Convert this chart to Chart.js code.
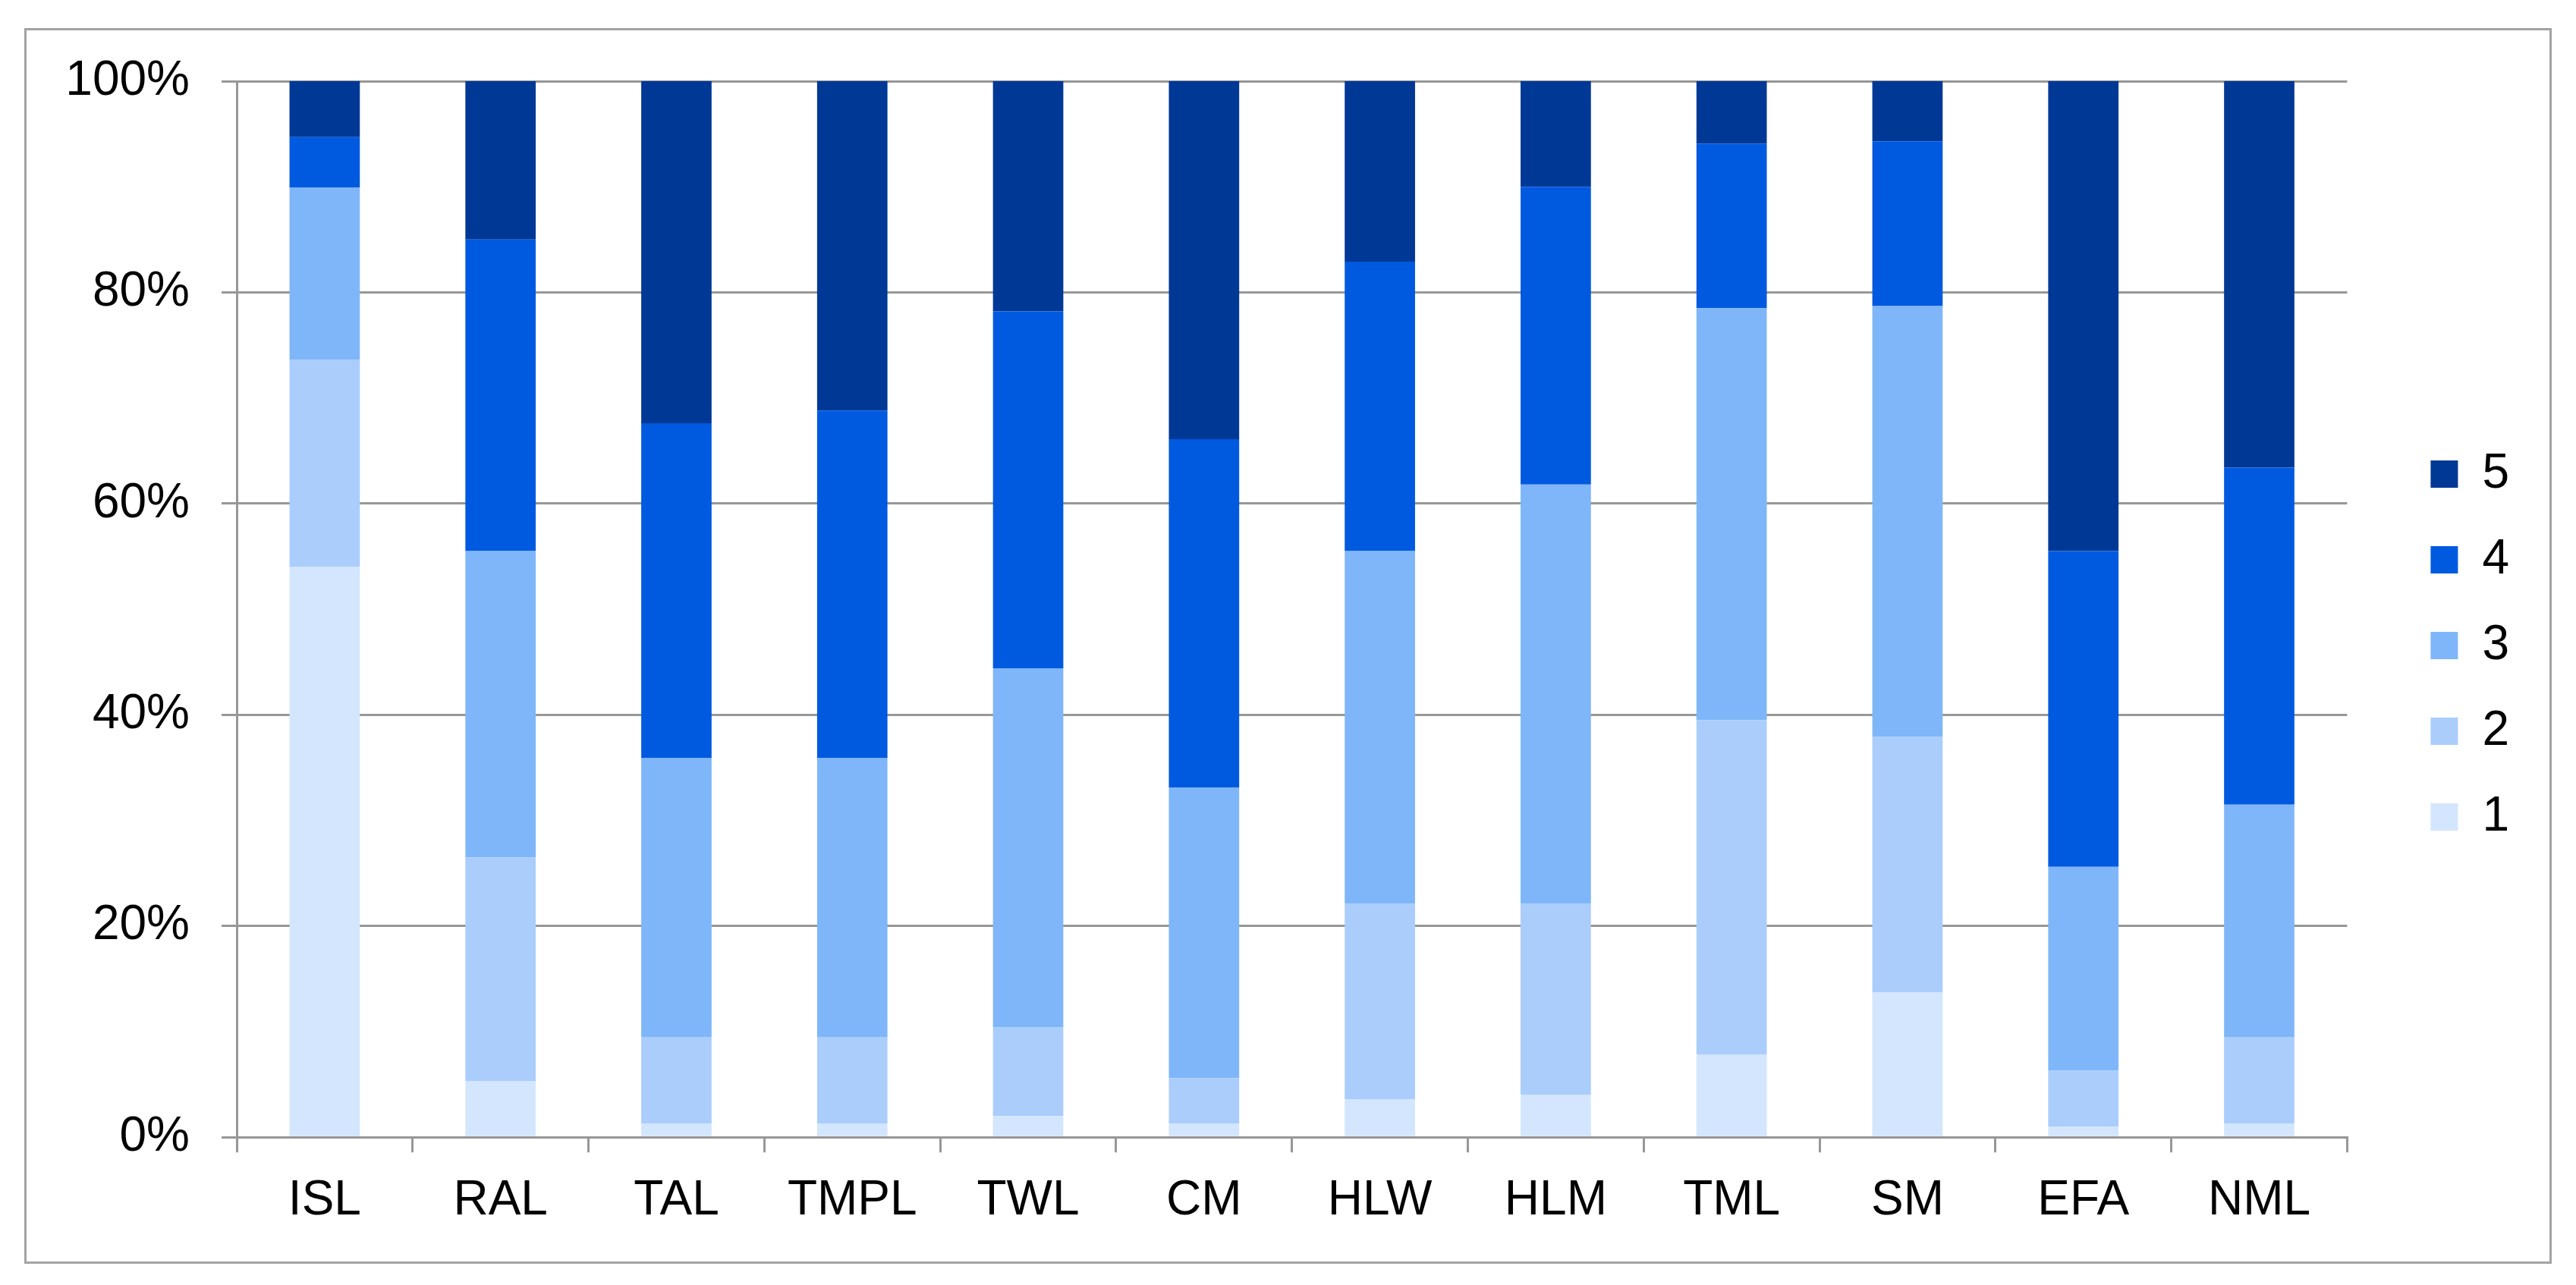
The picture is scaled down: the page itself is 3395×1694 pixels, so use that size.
<!DOCTYPE html>
<html lang="en">
<head>
  <meta charset="UTF-8"/>
  <title>Stacked distribution</title>
  <style>
    html, body { margin:0; padding:0; background:#fff; }
    #frame {
      position:absolute; left:32px; top:37px; width:3331px; height:1629px;
      box-sizing:border-box; border:3px solid #a3a3a3;
    }
    #chart { position:absolute; left:0; top:0; }
  </style>
  <script src="https://cdn.jsdelivr.net/npm/chart.js"></script>
</head>
<body>
<div id="frame"></div>
<canvas id="chart" width="3395" height="1694"></canvas>

<script>
// categories
const groups = ["ISL","RAL","TAL","TMPL","TWL","CM","HLW","HLM","TML","SM","EFA","NML"];

// share of each score (%), bottom to top
const score1 = [54.0, 5.3, 1.3, 1.3, 2.0, 1.3, 3.6, 4.0, 7.8, 13.7, 1.0, 1.3];
const score2 = [19.6, 21.2, 8.2, 8.2, 8.4, 4.3, 18.5, 18.1, 31.7, 24.2, 5.3, 8.2];
const score3 = [16.3, 29.0, 26.4, 26.4, 34.0, 27.5, 33.4, 39.7, 39.0, 40.8, 19.3, 22.0];
const score4 = [4.8, 29.5, 31.7, 32.9, 33.8, 33.0, 27.4, 28.2, 15.6, 15.6, 29.9, 31.9];
const score5 = [5.3, 15.0, 32.4, 31.2, 21.8, 33.9, 17.1, 10.0, 5.9, 5.7, 44.5, 36.6];

const seriesNames = ["1","2","3","4","5"];
const colors = ["#d3e6fd","#aacdfc","#7fb6f9","#005ae0","#003896"];

// y ticks
const yTicks = [0, 20, 40, 60, 80, 100];

const FONT = "'Liberation Sans', Arial, sans-serif";
const GRID = "#979797";

const values = [score1, score2, score3, score4, score5];
const datasets = values.map((v, i) => ({
  label: seriesNames[i],
  data: v,
  backgroundColor: colors[i],
  borderWidth: 0,
  barPercentage: 0.4,
  categoryPercentage: 1.0
}));

// invisible spacer axis, only takes room in the layout
const spacer = (pos, size) => ({
  type: 'linear',
  position: pos,
  display: true,
  grid: { display: false },
  border: { display: false },
  ticks: { display: false },
  afterFit: s => { if (pos === 'top') s.height = size; else s.width = size; }
});

new Chart(document.getElementById("chart").getContext("2d"), {
  type: 'bar',
  data: { labels: groups, datasets: datasets },
  options: {
    responsive: false,
    devicePixelRatio: 1,
    animation: false,
    layout: { padding: { left: 86, top: 54, right: 78, bottom: 46 } },
    plugins: {
      tooltip: { enabled: false },
      legend: {
        position: 'right',
        reverse: true,
        labels: {
          boxWidth: 36, boxHeight: 36, padding: 49,
          color: '#000',
          font: { family: FONT, size: 64 }
        }
      }
    },
    scales: {
      x: {
        stacked: true,
        grid: { display: true, drawOnChartArea: false, drawTicks: true, tickLength: 20, color: GRID, lineWidth: 3 },
        border: { display: true, color: GRID, width: 3 },
        ticks: { color: '#000', padding: 26, font: { family: FONT, size: 64 }, maxRotation: 0 }
      },
      y: {
        stacked: true,
        min: yTicks[0],
        max: yTicks[yTicks.length - 1],
        afterBuildTicks: s => { s.ticks = yTicks.map(v => ({ value: v })); },
        grid: { color: GRID, lineWidth: 3, tickLength: 20, drawTicks: true },
        border: { display: true, color: GRID, width: 3 },
        ticks: {
          color: '#000', padding: 42,
          font: { family: FONT, size: 64 },
          callback: v => v + '%'
        },
        afterFit: s => { s.width = 226; }
      },
      gapRight: spacer('right', 61),
      gapTop: spacer('top', 53)
    }
  }
});
</script>
</body>
</html>
